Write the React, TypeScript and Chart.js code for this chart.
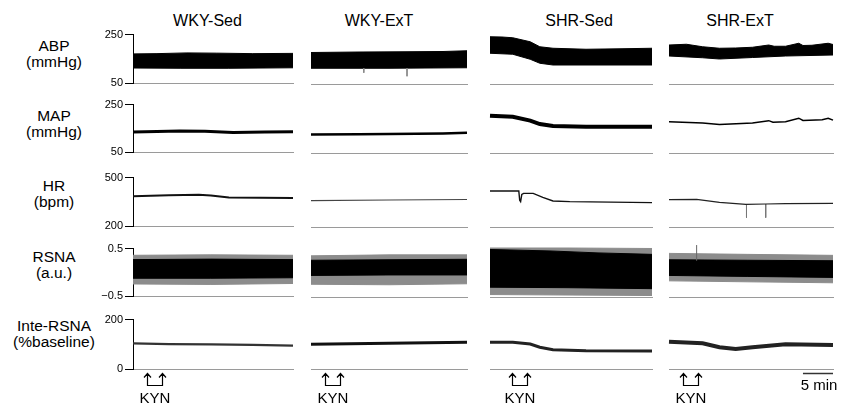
import React, { useEffect, useRef } from "react";
import { Chart, registerables } from "chart.js";

Chart.register(...registerables);

type P = [number, number];

const FONT = '"Liberation Sans", Arial, Helvetica, sans-serif';

// ---------- labels / axes ----------
const groups = ["WKY-Sed", "WKY-ExT", "SHR-Sed", "SHR-ExT"];
const rowTitles = ["ABP", "MAP", "HR", "RSNA", "Inte-RSNA"];
const rowUnits = ["(mmHg)", "(mmHg)", "(bpm)", "(a.u.)", "(%baseline)"];
const yMin = [50, 50, 200, -0.5, 0];
const yMax = [250, 250, 500, 0.5, 200];
const yMinLabels = ["50", "50", "200", "\u22120.5", "0"];
const yMaxLabels = ["250", "250", "500", "0.5", "200"];
const recordMinutes = [26.7, 26, 27, 27.3];
const kynMinutes: P[] = [[2.4, 4.9], [2.4, 4.9], [3.7, 6.2], [2.3, 4.8]];
const scaleBarMinutes = 5;
const scaleBarLabel = "5 min";
const kynLabel = "KYN";

// ---------- ABP envelopes (min, mmHg) ----------
const abpHiWkySed: P[] = [[0, 171], [4, 172], [9, 175], [14, 174], [20, 172], [26.7, 173]];
const abpLoWkySed: P[] = [[0, 113], [8, 112], [16, 112], [26.7, 114]];
const abpHiWkyExt: P[] = [[0, 176], [8, 178], [16, 179], [22, 180], [26, 183]];
const abpLoWkyExt: P[] = [[0, 113], [13, 113], [26, 115]];
const abpSpikeWkyExt: P[] = [[8.8, 113], [8.8, 95], [16, 113], [16, 81]];
const abpHiShrSed: P[] = [[0, 239], [2, 238], [3.8, 235], [6.7, 219], [8.3, 199], [10.5, 193], [16, 189], [22, 191], [27, 193]];
const abpLoShrSed: P[] = [[0, 173], [3.8, 169], [6.7, 149], [8.3, 133], [10.5, 126], [20, 126], [27, 126]];
const abpHiShrExt: P[] = [[0, 206], [2.9, 209], [5.6, 199], [8.4, 193], [11.1, 194], [13.9, 197], [16.6, 206], [17.5, 201], [19.4, 201], [21.6, 213], [22.3, 204], [23.8, 205], [26.5, 213], [27.3, 208]];
const abpLoShrExt: P[] = [[0, 162], [5.6, 155], [8.4, 150], [13.9, 156], [19.4, 162], [27.3, 166]];

// ---------- MAP (mmHg) ----------
const mapWkySed: P[] = [[0, 135], [4, 137], [7.8, 140], [12, 138], [16.7, 133], [22, 135], [26.7, 136]];
const mapWkyExt: P[] = [[0, 126], [8, 127], [13, 128], [22, 130], [26, 133]];
const mapShrSed: P[] = [[0, 202], [3.8, 198], [6.7, 182], [8.3, 168], [10.5, 160], [16, 157], [27, 157]];
const mapShrExt: P[] = [[0, 178], [5.6, 172], [8.4, 166], [13.9, 172], [16.6, 182], [17.3, 176], [19.4, 178], [21.6, 192], [22.3, 183], [25.5, 186], [26.5, 192], [27.3, 184]];

// ---------- HR (bpm) ----------
const hrWkySed: P[] = [[0, 386], [6, 391], [11, 394], [13, 390], [16, 377], [26.7, 375]];
const hrWkyExt: P[] = [[0, 358], [13, 362], [26, 365]];
const hrShrSed: P[] = [[0, 416], [4.8, 416], [4.95, 360], [5.1, 352], [5.3, 396], [5.6, 402], [7.2, 402], [8.8, 378], [10.5, 356], [13.3, 352], [27, 346]];
const hrShrExt: P[] = [[0, 364], [4.6, 366], [8.4, 348], [12.8, 336], [16.1, 338], [19.4, 340], [27.3, 342]];
const hrSpikeShrExt: P[] = [[12.9, 336], [12.9, 256], [16.1, 338], [16.1, 256]];

// ---------- RSNA envelopes (a.u.) ----------
const rsnaCoreHiWkySed: P[] = [[0, 0.27], [13, 0.28], [26.7, 0.27]];
const rsnaCoreLoWkySed: P[] = [[0, -0.12], [13, -0.12], [26.7, -0.11]];
const rsnaOuterHiWkySed: P[] = [[0, 0.36], [13, 0.37], [26.7, 0.36]];
const rsnaOuterLoWkySed: P[] = [[0, -0.24], [13, -0.25], [26.7, -0.23]];
const rsnaCoreHiWkyExt: P[] = [[0, 0.25], [13, 0.26], [26, 0.27]];
const rsnaCoreLoWkyExt: P[] = [[0, -0.06], [13, -0.05], [26, -0.05]];
const rsnaOuterHiWkyExt: P[] = [[0, 0.34], [13, 0.36], [26, 0.36]];
const rsnaOuterLoWkyExt: P[] = [[0, -0.24], [13, -0.25], [26, -0.23]];
const rsnaCoreHiShrSed: P[] = [[0, 0.47], [10, 0.44], [18, 0.40], [27, 0.37]];
const rsnaCoreLoShrSed: P[] = [[0, -0.30], [13, -0.31], [27, -0.33]];
const rsnaOuterHiShrSed: P[] = [[0, 0.5], [13, 0.5], [27, 0.49]];
const rsnaOuterLoShrSed: P[] = [[0, -0.45], [13, -0.46], [27, -0.47]];
const rsnaCoreHiShrExt: P[] = [[0, 0.26], [13, 0.25], [27.3, 0.24]];
const rsnaCoreLoShrExt: P[] = [[0, -0.06], [13, -0.08], [27.3, -0.10]];
const rsnaOuterHiShrExt: P[] = [[0, 0.39], [13, 0.37], [27.3, 0.35]];
const rsnaOuterLoShrExt: P[] = [[0, -0.17], [13, -0.19], [27.3, -0.21]];
const rsnaSpikeShrExt: P[] = [[4.6, 0.24], [4.6, 0.56]];

// ---------- Integrated RSNA (% baseline) ----------
const inteWkySed: P[] = [[0, 104], [6, 101], [13, 100], [20, 98], [26.7, 95]];
const inteWkyExt: P[] = [[0, 99], [13, 103], [26, 107]];
const inteShrSed: P[] = [[0, 107], [3.8, 107], [6.7, 100], [8.3, 87], [10.5, 77], [16, 73], [27, 72]];
const inteShrExt: P[] = [[0, 109], [5.6, 103], [8.4, 87], [11.1, 80], [13.9, 87], [19.4, 99], [27.3, 96]];

// ---------- layout (pixels) ----------
const colX = [133, 311, 490, 669];
const colW = [160, 156, 162, 164];
const rowY = [34, 104, 177, 248, 319];
const rowH = [50, 49, 50, 49, 50];
const titleCenters = [207.5, 379, 579, 740];
const rowLabelTops = [38, 108, 178, 249, 318];
const AXIS_W = 40;
const PAD_L = 3;
const PAD_R = 4;
const PAD_T = 8;

const pts = (a: P[]) => a.map(([x, y]) => ({ x, y }));
const spikes = (a: P[]) => {
  const out: any[] = [];
  for (let i = 0; i < a.length; i += 2) {
    out.push({ x: a[i][0], y: a[i][1] }, { x: a[i + 1][0], y: a[i + 1][1] }, { x: a[i][0] + 0.01, y: null });
  }
  return out;
};

const lineDs = (a: P[], color: string, width: number) => ({
  data: pts(a), borderColor: color, backgroundColor: color, borderWidth: width,
  pointRadius: 0, fill: false, tension: 0, clip: false as any,
});
const spikeDs = (a: P[], color: string, width: number) => ({
  data: spikes(a), borderColor: color, borderWidth: width, pointRadius: 0,
  fill: false, spanGaps: false, clip: false as any,
});
const bandDs = (hi: P[], lo: P[], color: string) => [
  { data: pts(hi), borderColor: color, backgroundColor: color, borderWidth: 1, pointRadius: 0, fill: "+1", tension: 0, clip: false as any },
  { data: pts(lo), borderColor: color, backgroundColor: color, borderWidth: 1, pointRadius: 0, fill: false, tension: 0, clip: false as any },
];

const abpHi = [abpHiWkySed, abpHiWkyExt, abpHiShrSed, abpHiShrExt];
const abpLo = [abpLoWkySed, abpLoWkyExt, abpLoShrSed, abpLoShrExt];
const mapSeries = [mapWkySed, mapWkyExt, mapShrSed, mapShrExt];
const hrSeries = [hrWkySed, hrWkyExt, hrShrSed, hrShrExt];
const rsnaCoreHi = [rsnaCoreHiWkySed, rsnaCoreHiWkyExt, rsnaCoreHiShrSed, rsnaCoreHiShrExt];
const rsnaCoreLo = [rsnaCoreLoWkySed, rsnaCoreLoWkyExt, rsnaCoreLoShrSed, rsnaCoreLoShrExt];
const rsnaOuterHi = [rsnaOuterHiWkySed, rsnaOuterHiWkyExt, rsnaOuterHiShrSed, rsnaOuterHiShrExt];
const rsnaOuterLo = [rsnaOuterLoWkySed, rsnaOuterLoWkyExt, rsnaOuterLoShrSed, rsnaOuterLoShrExt];
const inteSeries = [inteWkySed, inteWkyExt, inteShrSed, inteShrExt];

const mapWidths = [3, 2.5, 4, 1.5];
const hrWidths = [2, 1.2, 1.4, 1.2];
const hrColors = ["#111", "#444", "#111", "#222"];
const inteWidths = [2.2, 3, 3, 4];
const inteColors = ["#333", "#111", "#222", "#222"];

function datasetsFor(row: number, col: number): any[] {
  if (row === 0) {
    const ds: any[] = [];
    if (col === 1) ds.push(spikeDs(abpSpikeWkyExt, "#888", 1));
    ds.push(...bandDs(abpHi[col], abpLo[col], "#000"));
    return ds;
  }
  if (row === 1) return [lineDs(mapSeries[col], "#000", mapWidths[col])];
  if (row === 2) {
    const ds: any[] = [lineDs(hrSeries[col], hrColors[col], hrWidths[col])];
    if (col === 3) ds.push(spikeDs(hrSpikeShrExt, "#777", 1));
    return ds;
  }
  if (row === 3) {
    const ds: any[] = [];
    if (col === 3) ds.push(spikeDs(rsnaSpikeShrExt, "#666", 1));
    ds.push(...bandDs(rsnaCoreHi[col], rsnaCoreLo[col], "#000"));
    ds.push(...bandDs(rsnaOuterHi[col], rsnaOuterLo[col], "#8c8c8c"));
    return ds;
  }
  return [lineDs(inteSeries[col], inteColors[col], inteWidths[col])];
}

const kynPlugin = (t: P) => ({
  id: "kyn",
  afterDraw(chart: any) {
    const { ctx, chartArea } = chart;
    const xs = chart.scales.x;
    const x1 = Math.round(xs.getPixelForValue(t[0])) + 0.5;
    const x2 = Math.round(xs.getPixelForValue(t[1])) + 0.5;
    const yTop = chartArea.bottom + 4.5;
    const yBot = chartArea.bottom + 16.5;
    ctx.save();
    ctx.strokeStyle = "#000";
    ctx.lineWidth = 1.2;
    ctx.beginPath();
    ctx.moveTo(x1, yTop);
    ctx.lineTo(x1, yBot);
    ctx.lineTo(x2, yBot);
    ctx.lineTo(x2, yTop);
    for (const x of [x1, x2]) {
      ctx.moveTo(x - 3.5, yTop + 4);
      ctx.lineTo(x, yTop);
      ctx.lineTo(x + 3.5, yTop + 4);
    }
    ctx.stroke();
    ctx.fillStyle = "#000";
    ctx.font = `15px ${FONT}`;
    ctx.textAlign = "center";
    ctx.textBaseline = "alphabetic";
    ctx.fillText(kynLabel, (x1 + x2) / 2, chartArea.bottom + 33.5);
    ctx.restore();
  },
});

const scaleBarPlugin = {
  id: "scalebar",
  afterDraw(chart: any) {
    const { ctx, chartArea } = chart;
    const xs = chart.scales.x;
    const x2 = xs.getPixelForValue(xs.max);
    const x1 = xs.getPixelForValue(xs.max - scaleBarMinutes);
    const y = chartArea.bottom + 4.5;
    ctx.save();
    ctx.strokeStyle = "#333";
    ctx.lineWidth = 1.5;
    ctx.beginPath();
    ctx.moveTo(x1, y);
    ctx.lineTo(x2, y);
    ctx.stroke();
    ctx.fillStyle = "#000";
    ctx.font = `15px ${FONT}`;
    ctx.textAlign = "center";
    ctx.textBaseline = "alphabetic";
    ctx.fillText(scaleBarLabel, (x1 + x2) / 2 + 1, chartArea.bottom + 21);
    ctx.restore();
  },
};

function Panel({ row, col }: { row: number; col: number }) {
  const ref = useRef<HTMLCanvasElement>(null);
  const hasAxis = col === 0;
  const last = row === 4;
  const padB = last ? 36 : 8;
  const left = colX[col] - PAD_L - (hasAxis ? AXIS_W : 0);
  const top = rowY[row] - PAD_T;
  const width = colW[col] + PAD_L + PAD_R + (hasAxis ? AXIS_W : 0);
  const height = rowH[row] + PAD_T + padB;

  useEffect(() => {
    const min = yMin[row];
    const max = yMax[row];
    const plugins: any[] = [];
    if (last) plugins.push(kynPlugin(kynMinutes[col]));
    if (last && col === 3) plugins.push(scaleBarPlugin);
    const chart = new Chart(ref.current as HTMLCanvasElement, {
      type: "line",
      data: { datasets: datasetsFor(row, col) },
      plugins,
      options: {
        animation: false,
        responsive: false,
        devicePixelRatio: 1,
        events: [],
        layout: { padding: { left: PAD_L, right: PAD_R, top: PAD_T, bottom: padB } },
        plugins: { legend: { display: false }, tooltip: { enabled: false } },
        scales: {
          x: {
            type: "linear",
            min: 0,
            max: recordMinutes[col],
            display: true,
            ticks: { display: false },
            grid: { display: false, drawTicks: false },
            border: { display: true, color: "#9a9a9a", width: 1 },
          },
          y: hasAxis
            ? {
                type: "linear",
                min,
                max,
                display: true,
                afterBuildTicks: (ax: any) => {
                  ax.ticks = [{ value: min }, { value: max }];
                },
                afterFit: (ax: any) => {
                  ax.width = AXIS_W;
                },
                ticks: {
                  autoSkip: false,
                  padding: 2,
                  color: "#000",
                  font: { family: FONT, size: 11 },
                  callback: (_v: any, i: number) => (i === 0 ? yMinLabels[row] : yMaxLabels[row]),
                },
                grid: { display: true, drawOnChartArea: false, drawTicks: true, tickLength: 8, color: "#000", lineWidth: 1 },
                border: { display: true, color: "#000", width: 1 },
              }
            : { type: "linear", min, max, display: false },
        },
      } as any,
    });
    return () => chart.destroy();
  }, []);

  return (
    <canvas
      ref={ref}
      width={width}
      height={height}
      style={{ position: "absolute", left, top, width, height }}
    />
  );
}

export default function App() {
  const panels: JSX.Element[] = [];
  for (let r = 0; r < 5; r++) for (let c = 0; c < 4; c++) panels.push(<Panel key={`${r}-${c}`} row={r} col={c} />);
  return (
    <div
      style={{
        position: "absolute",
        left: 0,
        top: 0,
        width: 847,
        height: 406,
        overflow: "hidden",
        background: "#fff",
        fontFamily: FONT,
        color: "#000",
      }}
    >
      {groups.map((g, i) => (
        <div
          key={g}
          style={{ position: "absolute", left: titleCenters[i] - 60, width: 120, top: 13, textAlign: "center", fontSize: 16, lineHeight: "15px", whiteSpace: "nowrap" }}
        >
          {g}
        </div>
      ))}
      {rowTitles.map((t, i) => (
        <div
          key={t}
          style={{ position: "absolute", left: 4, width: 100, top: rowLabelTops[i], textAlign: "center", fontSize: 15.5, lineHeight: "16px", whiteSpace: "nowrap" }}
        >
          <div>{t}</div>
          <div>{rowUnits[i]}</div>
        </div>
      ))}
      {panels}
    </div>
  );
}
